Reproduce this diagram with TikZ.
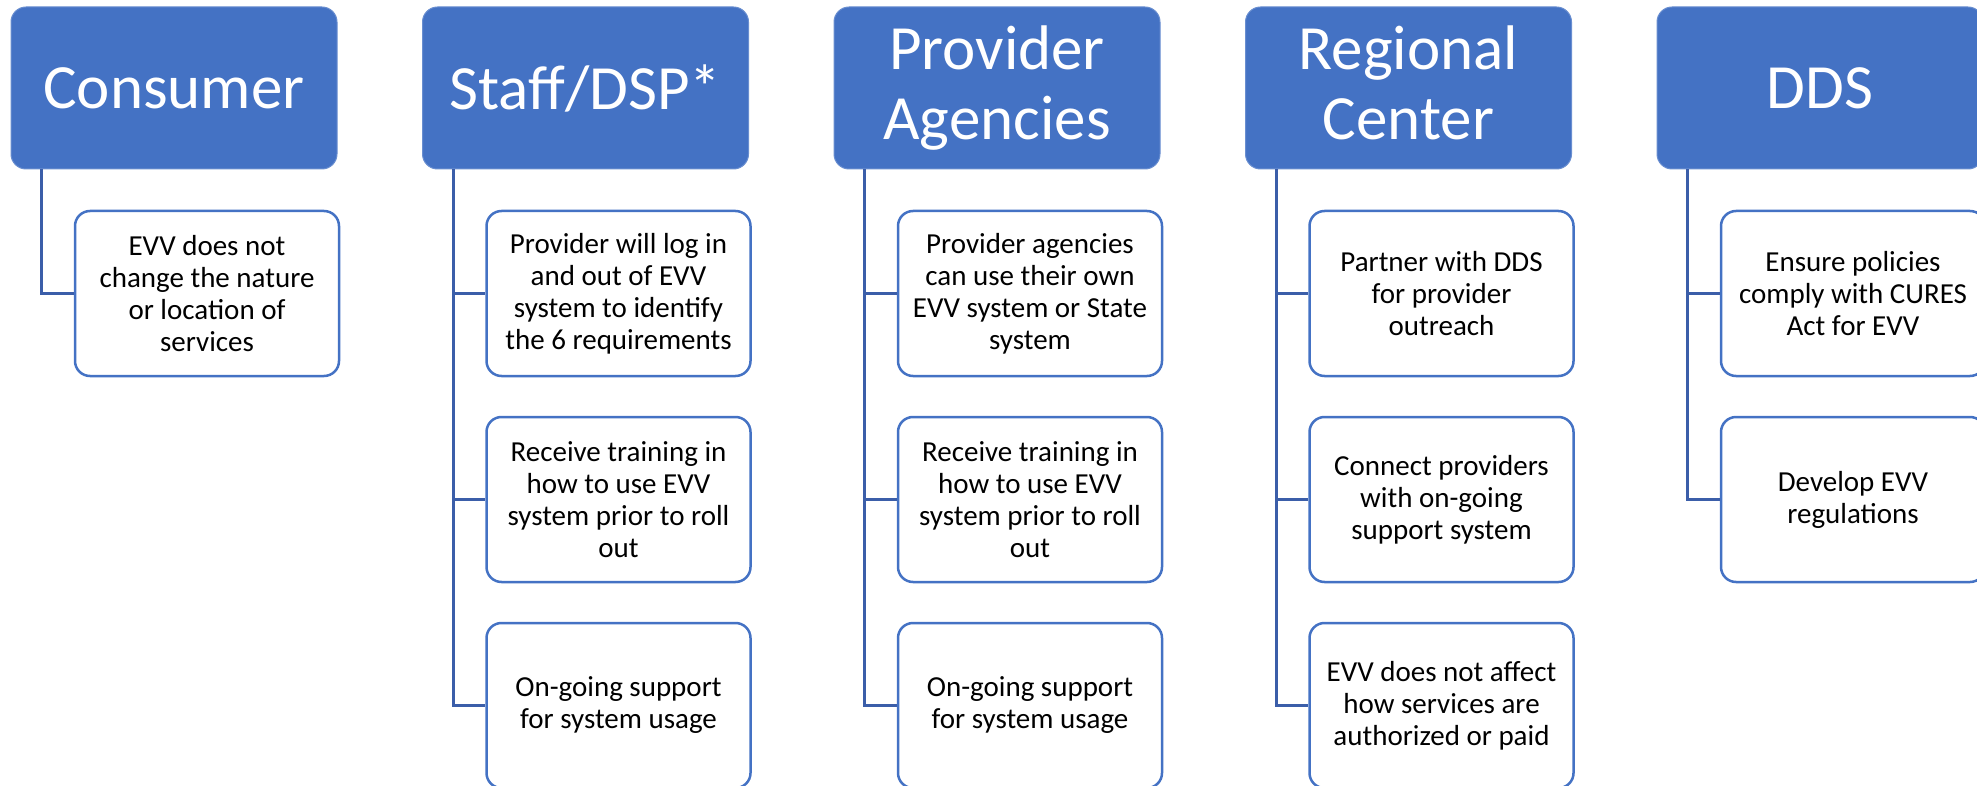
\documentclass[tikz,border=0pt]{standalone}
\usepackage{fontspec}
\setmainfont{Carlito}
\definecolor{hdrfill}{HTML}{4472C4}
\definecolor{cborder}{HTML}{4472C4}
\definecolor{lnk}{HTML}{3B5EA9}
\tikzset{
  hbox/.style={draw=hdrfill!80!white, line width=1pt, fill=hdrfill, rounded corners=15pt,
    minimum width=326pt, minimum height=162pt, text=white, inner sep=0pt,
    font=\fontsize{63}{70}\selectfont, align=center},
  cbox/.style={draw=cborder, line width=2.5pt, fill=white, rounded corners=15pt,
    minimum width=264pt, minimum height=165pt, text=black, inner sep=0pt,
    font=\fontsize{29}{32}\selectfont, align=center},
  link/.style={draw=lnk, line width=3pt}
}
\begin{document}
\begin{tikzpicture}[x=1pt,y=1pt]
\useasboundingbox (0,0) rectangle (1977,-786);
\clip (0,0) rectangle (1977,-786);
% headers
\node[hbox] (h1) at (174,-88) {Consumer};
\node[hbox] (h2) at (585.5,-88) {Staff/DSP*};
\node[hbox] (h3) at (997,-88) {Provider\\Agencies};
\node[hbox] (h4) at (1408.5,-88) {Regional\\Center\vphantom{g}};
\node[hbox] (h5) at (1820,-88) {DDS};
% children
\node[cbox] (c1a) at (207,-293.5) {EVV does not\\change the nature\\or location of\\services};
\node[cbox] (c2a) at (618.5,-293.5) {Provider will log in\\and out of EVV\\system to identify\\the 6 requirements};
\node[cbox] (c2b) at (618.5,-499.5) {Receive training in\\how to use EVV\\system prior to roll\\out};
\node[cbox] (c2c) at (618.5,-705.5) {On-going support\\for system usage};
\node[cbox] (c3a) at (1030,-293.5) {Provider agencies\\can use their own\\EVV system or State\\system};
\node[cbox] (c3b) at (1030,-499.5) {Receive training in\\how to use EVV\\system prior to roll\\out};
\node[cbox] (c3c) at (1030,-705.5) {On-going support\\for system usage};
\node[cbox] (c4a) at (1441.5,-293.5) {Partner with DDS\\for provider\\outreach};
\node[cbox] (c4b) at (1441.5,-499.5) {Connect providers\\with on-going\\support system};
\node[cbox] (c4c) at (1441.5,-705.5) {EVV does not affect\\how services are\\authorized or paid};
\node[cbox] (c5a) at (1853,-293.5) {Ensure policies\\comply with CURES\\Act for EVV};
\node[cbox] (c5b) at (1853,-499.5) {Develop EVV\\regulations};
% connectors
\draw[link] ([xshift=31pt]h1.south west) |- (c1a.west);
\foreach \c in {c2a,c2b,c2c} \draw[link] ([xshift=31pt]h2.south west) |- (\c.west);
\foreach \c in {c3a,c3b,c3c} \draw[link] ([xshift=31pt]h3.south west) |- (\c.west);
\foreach \c in {c4a,c4b,c4c} \draw[link] ([xshift=31pt]h4.south west) |- (\c.west);
\foreach \c in {c5a,c5b} \draw[link] ([xshift=31pt]h5.south west) |- (\c.west);
\end{tikzpicture}
\end{document}
